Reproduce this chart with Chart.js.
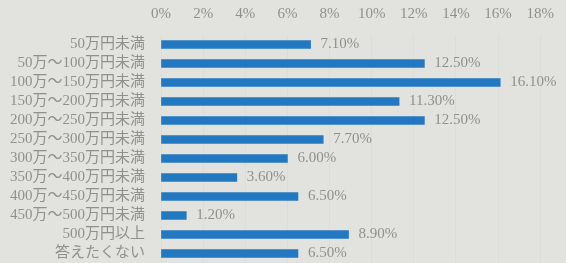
<!DOCTYPE html>
<html lang="ja">
<head>
  <meta charset="UTF-8">
  <title>年収分布</title>
  <script src="https://cdn.jsdelivr.net/npm/chart.js"></script>
  <style>
    html, body {
      margin: 0;
      padding: 0;
      background: #e2e3df;
      overflow: hidden;
    }
  </style>
</head>
<body>
  <canvas id="incomeChart" width="566" height="263"></canvas>

  <script>
    const categories = [
      '50万円未満',
      '50万～100万円未満',
      '100万～150万円未満',
      '150万～200万円未満',
      '200万～250万円未満',
      '250万～300万円未満',
      '300万～350万円未満',
      '350万～400万円未満',
      '400万～450万円未満',
      '450万～500万円未満',
      '500万円以上',
      '答えたくない'
    ];
    const percents = [7.1, 12.5, 16.1, 11.3, 12.5, 7.7, 6.0, 3.6, 6.5, 1.2, 8.9, 6.5];
    const tickValues = [0, 2, 4, 6, 8, 10, 12, 14, 16, 18];

    const FONT = '"Liberation Serif", "DejaVu Serif", "Noto Sans CJK JP", serif';
    const TEXT = '#90908c';

    // value labels to the right of each bar
    const valueLabels = {
      id: 'valueLabels',
      afterDatasetsDraw(chart) {
        const ctx = chart.ctx;
        const meta = chart.getDatasetMeta(0);
        ctx.save();
        ctx.font = '15px ' + FONT;
        ctx.fillStyle = TEXT;
        ctx.textAlign = 'left';
        ctx.textBaseline = 'middle';
        meta.data.forEach((bar, i) => {
          ctx.fillText(percents[i].toFixed(2) + '%', bar.x + 10, bar.y);
        });
        ctx.restore();
      }
    };

    const ctx = document.getElementById('incomeChart').getContext('2d');
    new Chart(ctx, {
      type: 'bar',
      data: {
        labels: categories,
        datasets: [{
          data: percents,
          backgroundColor: '#2379c1',
          barThickness: 8
        }]
      },
      options: {
        indexAxis: 'y',
        responsive: false,
        animation: false,
        layout: {
          padding: { left: 0, right: 16, top: 0, bottom: 0 }
        },
        plugins: {
          legend: { display: false },
          tooltip: { enabled: false }
        },
        scales: {
          x: {
            position: 'top',
            min: 0,
            max: 18,
            afterBuildTicks(axis) {
              axis.ticks = tickValues.map(v => ({ value: v }));
            },
            afterFit(axis) {
              axis.height = 35;
            },
            ticks: {
              color: TEXT,
              font: { family: FONT, size: 15 },
              padding: 12,
              callback: v => v + '%'
            },
            grid: {
              color: 'rgba(0,0,0,0.025)',
              drawTicks: false
            },
            border: { display: false }
          },
          y: {
            afterFit(axis) {
              axis.width = 161;
              axis.paddingTop = 0;
              axis.paddingBottom = 0;
            },
            ticks: {
              color: TEXT,
              font: { family: FONT, size: 15 },
              padding: 16,
              autoSkip: false
            },
            grid: { display: false, drawTicks: false },
            border: { display: false }
          }
        }
      },
      plugins: [valueLabels]
    });
  </script>
</body>
</html>
